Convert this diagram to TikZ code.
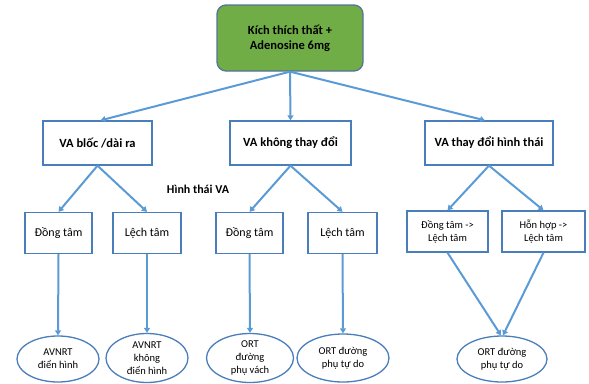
\documentclass[tikz,border=0pt]{standalone}
\usepackage{fontspec}
\setmainfont{Carlito}
\usetikzlibrary{arrows.meta,shapes.geometric}

\begin{document}
\begin{tikzpicture}[x=1pt,y=-1pt,
		box/.style={draw=boxblue, line width=1.3pt, fill=white, inner sep=2pt, align=center},
		leaf/.style={ellipse, draw=boxblue, line width=1.3pt, fill=white, inner sep=0pt, align=center, font=\fontsize{10.5}{13}\selectfont},
		link/.style={draw=lineblue, line width=2pt, -{Triangle[length=5pt,width=6pt]}}]
			\definecolor{boxblue}{RGB}{74, 126, 187}
			\definecolor{lineblue}{RGB}{91, 155, 213}
			\definecolor{mygreen}{RGB}{112, 173, 71}
			\definecolor{greenedge}{RGB}{84, 116, 150}
			\useasboundingbox (0,0) rectangle (589,383);
			% root
			\node[draw=greenedge, line width=1.3pt, fill=mygreen, rounded corners=9pt, minimum width=146pt, minimum height=66pt, align=center, font=\fontsize{12.5}{15}\selectfont\bfseries] (root) at (290,38) {Kích thích thất +\\Adenosine 6mg};
			% level 2
			\node[box, minimum width=109pt, minimum height=44pt, font=\fontsize{12.5}{15}\selectfont\bfseries] (bloc) at (97.5,143) {VA blốc /dài ra};
			\node[box, minimum width=121pt, minimum height=44pt, font=\fontsize{12.5}{15}\selectfont\bfseries] (khong) at (290.5,143) {VA không thay đổi};
			\node[box, minimum width=128pt, minimum height=44pt, font=\fontsize{12.5}{15}\selectfont\bfseries] (thaydoi) at (489,143) {VA thay đổi hình thái};
			\node[font=\fontsize{12}{14}\selectfont\bfseries] (hinhthai) at (198,189) {Hình thái VA};
			% level 3
			\node[box, minimum width=67pt, minimum height=41pt, font=\fontsize{12}{14}\selectfont] (dt1) at (58.5,233) {Đồng tâm};
			\node[box, minimum width=68pt, minimum height=41pt, font=\fontsize{12}{14}\selectfont] (lt1) at (147,233) {Lệch tâm};
			\node[box, minimum width=67pt, minimum height=41pt, font=\fontsize{12}{14}\selectfont] (dt2) at (249.5,233) {Đồng tâm};
			\node[box, minimum width=69pt, minimum height=41pt, font=\fontsize{12}{14}\selectfont] (lt2) at (342.5,233) {Lệch tâm};
			\node[box, minimum width=81pt, minimum height=41pt, font=\fontsize{10.5}{13}\selectfont] (dtlt) at (447.5,231.5) {Đồng tâm ->\\Lệch tâm};
			\node[box, minimum width=83pt, minimum height=41pt, font=\fontsize{10.5}{13}\selectfont] (hhlt) at (543.5,231.5) {Hỗn hợp ->\\Lệch tâm};
			% level 4
			\node[leaf, minimum width=82pt, minimum height=46pt] (avnrt1) at (58,359) {AVNRT\\điển hình};
			\node[leaf, minimum width=82pt, minimum height=49pt] (avnrt2) at (147,358) {AVNRT\\không\\điển hình};
			\node[leaf, minimum width=87pt, minimum height=49pt] (ort1) at (250,358) {ORT\\đường\\phụ vách};
			\node[leaf, minimum width=92pt, minimum height=48pt] (ort2) at (343,358) {ORT đường\\phụ tự do};
			\node[leaf, minimum width=90pt, minimum height=46pt] (ort3) at (502,359) {ORT đường\\phụ tự do};
			% links
			\draw[link] (root.south) -- ([xshift=3pt]bloc.north);
			\draw[link] (root.south) -- (khong.north);
			\draw[link] (root.south) -- ([xshift=-4pt]thaydoi.north);
			\draw[link] (bloc.south) -- (dt1.north);
			\draw[link] (bloc.south) -- (lt1.north);
			\draw[link] (khong.south) -- (dt2.north);
			\draw[link] (khong.south) -- (lt2.north);
			\draw[link] (thaydoi.south) -- (dtlt.north);
			\draw[link] (thaydoi.south) -- (hhlt.north);
			\draw[link] (dt1.south) -- (avnrt1.north);
			\draw[link] (lt1.south) -- (avnrt2.north);
			\draw[link] (dt2.south) -- (ort1.north);
			\draw[link] (lt2.south) -- (ort2.north);
			\draw[link] (dtlt.south) -- ([xshift=-1pt]ort3.north);
			\draw[link] (hhlt.south) -- ([xshift=1pt]ort3.north);
		\end{tikzpicture}
\end{document}
